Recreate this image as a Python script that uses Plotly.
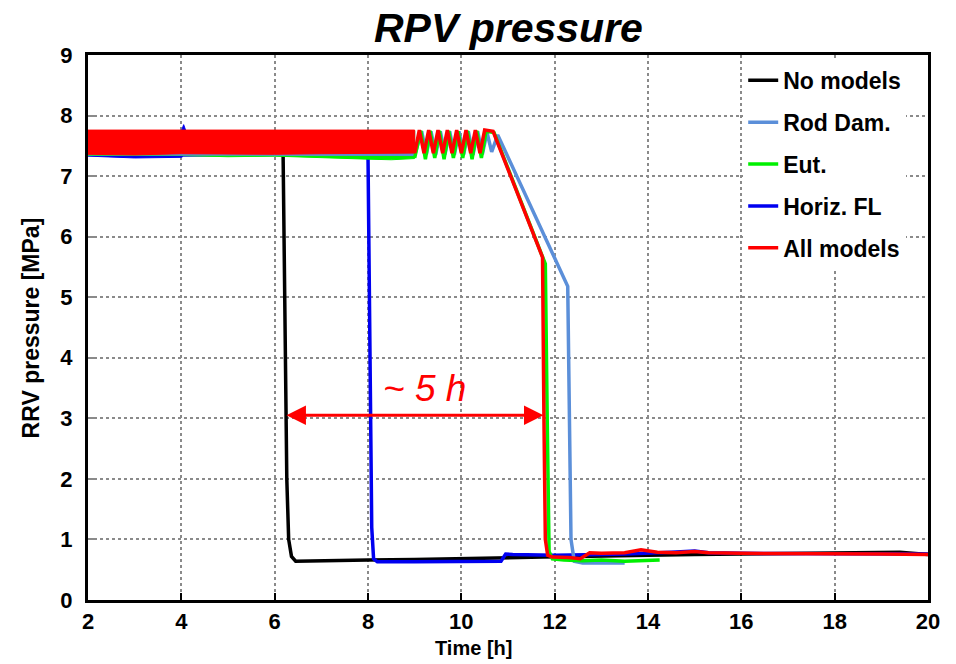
import plotly.graph_objects as go

# ---------------- data ----------------
# dense oscillation envelopes (time [h], high / low pressure [MPa])
band_t_black = [2.0, 3.0, 4.0, 5.0, 6.0, 6.18]
band_hi_black = [7.74, 7.75, 7.74, 7.75, 7.74, 7.74]
band_lo_black = [7.36, 7.35, 7.36, 7.36, 7.37, 7.38]

band_t_blue = [2.0, 3.0, 4.0, 4.05, 4.1, 5.0, 6.0, 7.0, 7.6, 8.0]
band_hi_blue = [7.72, 7.73, 7.74, 7.85, 7.74, 7.73, 7.74, 7.74, 7.74, 7.74]
band_lo_blue = [7.33, 7.30, 7.31, 7.33, 7.34, 7.33, 7.34, 7.34, 7.32, 7.35]

band_t_green = [2.0, 4.0, 5.0, 6.0, 7.0, 8.0, 8.5, 9.0]
band_hi_green = [7.74, 7.74, 7.75, 7.74, 7.75, 7.75, 7.75, 7.75]
band_lo_green = [7.34, 7.34, 7.32, 7.33, 7.31, 7.28, 7.27, 7.29]

band_t_rod = [2.0, 5.0, 8.0, 9.0]
band_hi_rod = [7.74, 7.75, 7.74, 7.74]
band_lo_rod = [7.35, 7.35, 7.34, 7.34]

band_t_red = [2.0, 3.0, 4.0, 5.0, 6.0, 7.0, 8.0, 9.0]
band_hi_red = [7.76, 7.76, 7.75, 7.76, 7.76, 7.76, 7.75, 7.76]
band_lo_red = [7.36, 7.35, 7.37, 7.37, 7.36, 7.37, 7.38, 7.38]

# line traces after the dense part
t_black = [6.18, 6.22, 6.26, 6.30, 6.36, 6.45, 7.0, 8.0, 9.0, 10.0, 11.0, 11.75, 12.5,
           13.0, 14.0, 15.0, 16.0, 17.0, 18.0, 19.0, 19.4, 20.0]
p_black = [7.40, 5.0, 2.0, 1.0, 0.72, 0.64, 0.65, 0.66, 0.67, 0.68, 0.70, 0.71, 0.72,
           0.73, 0.74, 0.75, 0.76, 0.77, 0.78, 0.79, 0.79, 0.75]

t_blue = [8.0, 8.04, 8.08, 8.12, 8.2, 9.0, 10.0, 10.85, 10.95, 11.1, 12.0, 12.5, 13.0,
          13.5, 14.0, 14.5, 15.0, 15.3, 16.0, 18.0, 20.0]
p_blue = [7.35, 4.0, 1.2, 0.68, 0.63, 0.63, 0.63, 0.64, 0.76, 0.75, 0.74, 0.74, 0.75,
          0.76, 0.77, 0.79, 0.81, 0.78, 0.77, 0.77, 0.76]

t_green = [9.0, 9.13, 9.23, 9.33, 9.43, 9.53, 9.63, 9.73, 9.83, 9.93, 10.03, 10.13,
           10.23, 10.33, 10.43, 10.53, 10.70, 11.80, 11.84, 11.88, 11.95, 12.2, 12.6,
           13.0, 13.5, 14.0, 14.25]
p_green = [7.30, 7.75, 7.28, 7.75, 7.30, 7.75, 7.28, 7.75, 7.30, 7.74, 7.30, 7.75,
           7.28, 7.75, 7.30, 7.74, 7.72, 5.55, 3.0, 0.80, 0.68, 0.66, 0.65,
           0.66, 0.64, 0.66, 0.66]

t_rod = [9.0, 9.15, 9.25, 9.35, 9.45, 9.55, 9.65, 9.75, 9.85, 9.95, 10.05, 10.15,
         10.25, 10.35, 10.45, 10.55, 10.65, 10.78, 12.28, 12.31, 12.35, 12.42, 12.6,
         13.0, 13.5]
p_rod = [7.35, 7.74, 7.36, 7.74, 7.35, 7.74, 7.36, 7.74, 7.35, 7.74, 7.36, 7.74,
         7.35, 7.74, 7.36, 7.72, 7.40, 7.68, 5.18, 3.0, 1.0, 0.64, 0.61,
         0.61, 0.61]

t_red = [9.0, 9.1, 9.2, 9.3, 9.4, 9.5, 9.6, 9.7, 9.8, 9.9, 10.0, 10.1, 10.2, 10.3,
         10.4, 10.5, 10.68, 11.74, 11.77, 11.80, 11.85, 11.95, 12.3, 12.55, 12.75,
         13.0, 13.5, 13.85, 14.2, 14.6, 15.0, 15.3, 16.0, 17.0, 18.0, 19.0, 20.0]
p_red = [7.38, 7.76, 7.38, 7.76, 7.38, 7.76, 7.38, 7.76, 7.38, 7.76, 7.38, 7.76,
         7.38, 7.76, 7.38, 7.76, 7.74, 5.66, 3.0, 1.0, 0.74, 0.71, 0.70, 0.68, 0.78,
         0.77, 0.78, 0.83, 0.79, 0.78, 0.80, 0.78, 0.77, 0.77, 0.77, 0.76, 0.75]

# annotation values
arrow_start_t, arrow_end_t, arrow_p = 6.22, 11.76, 3.05
label_t, label_p = 9.22, 3.5
xtitle_t = 10.27

x_ticks = [2, 4, 6, 8, 10, 12, 14, 16, 18, 20]
y_ticks = [0, 1, 2, 3, 4, 5, 6, 7, 8, 9]

names = ["No models", "Rod Dam.", "Eut.", "Horiz. FL", "All models"]
colors = {"No models": "#000000", "Rod Dam.": "#5B8FD9", "Eut.": "#00F000",
          "Horiz. FL": "#0000F0", "All models": "#FF0000"}

# ---------------- figure ----------------
fig = go.Figure()

def add_band(t, hi, lo, color):
    fig.add_trace(go.Scatter(x=t + t[::-1], y=hi + lo[::-1], fill="toself",
                             fillcolor=color, line=dict(width=1, color=color),
                             mode="lines", showlegend=False, hoverinfo="skip"))

def add_line(t, p, name, rank):
    fig.add_trace(go.Scatter(x=t, y=p, mode="lines", name=name,
                             line=dict(color=colors[name], width=3.5),
                             legendgroup=name, legendrank=rank))

# draw order: black, blue, green, rod, red on top
add_band(band_t_black, band_hi_black, band_lo_black, colors["No models"])
add_line(t_black, p_black, "No models", 1)
add_band(band_t_blue, band_hi_blue, band_lo_blue, colors["Horiz. FL"])
add_line(t_blue, p_blue, "Horiz. FL", 4)
add_band(band_t_green, band_hi_green, band_lo_green, colors["Eut."])
add_band(band_t_rod, band_hi_rod, band_lo_rod, colors["Rod Dam."])
add_line(t_rod, p_rod, "Rod Dam.", 2)
add_line(t_green, p_green, "Eut.", 3)
add_band(band_t_red, band_hi_red, band_lo_red, colors["All models"])
add_line(t_red, p_red, "All models", 5)

font_family = "Liberation Sans, Arial, sans-serif"

fig.add_annotation(x=arrow_end_t, y=arrow_p, ax=arrow_start_t, ay=arrow_p,
                   xref="x", yref="y", axref="x", ayref="y", text="",
                   showarrow=True, arrowhead=2, startarrowhead=2, arrowside="end+start",
                   arrowsize=1.3, startarrowsize=1.3, arrowwidth=3, arrowcolor="#FF0000")
fig.add_annotation(x=label_t, y=label_p, xref="x", yref="y", text="<i>~ 5 h</i>",
                   showarrow=False, font=dict(family=font_family, size=37, color="#FF0000"))
# axis titles
fig.add_annotation(x=xtitle_t, y=0, xref="x", yref="paper", yshift=-48,
                   xanchor="center", yanchor="middle", showarrow=False,
                   text="<b>Time [h]</b>",
                   font=dict(family=font_family, size=20, color="black"))
fig.add_annotation(x=-0.068, y=0.5, xref="paper", yref="paper", textangle=-90,
                   xanchor="center", yanchor="middle", showarrow=False,
                   text="<b>RRV pressure [MPa]</b>",
                   font=dict(family=font_family, size=23, color="black"))
# chart title
fig.add_annotation(x=0.501, y=1, xref="paper", yref="paper", yshift=27,
                   xanchor="center", yanchor="middle", showarrow=False,
                   text="<b><i>RPV pressure</i></b>",
                   font=dict(family=font_family, size=41, color="black"))

fig.update_layout(
    width=956, height=664,
    margin=dict(l=88, r=28, t=55, b=64),
    paper_bgcolor="white", plot_bgcolor="white",
    font=dict(family=font_family, color="black"),
    legend=dict(x=0.78, y=0.993, xanchor="left", yanchor="top",
                bgcolor="white", borderwidth=0, traceorder="grouped",
                tracegroupgap=9, itemwidth=30,
                font=dict(size=23, family=font_family, color="black", weight="bold")),
    showlegend=True,
)

fig.update_xaxes(range=[2, 20], tickvals=x_ticks, ticktext=[str(v) for v in x_ticks],
                 showgrid=True, gridcolor="#8a8a8a", griddash="dot", gridwidth=1.5,
                 showline=True, linecolor="black", linewidth=3, mirror=True,
                 ticks="inside", ticklen=7, tickcolor="black", tickwidth=1.5,
                 tickfont=dict(size=22, family=font_family, weight="bold"),
                 automargin=False, zeroline=False)
fig.update_yaxes(range=[0, 9], tickvals=y_ticks, ticktext=[str(v) for v in y_ticks],
                 showgrid=True, gridcolor="#8a8a8a", griddash="dot", gridwidth=1.5,
                 showline=True, linecolor="black", linewidth=3, mirror=True,
                 ticks="inside", ticklen=6, tickcolor="#8a8a8a", tickwidth=1.5,
                 ticklabelstandoff=8,
                 tickfont=dict(size=22, family=font_family, weight="bold"),
                 automargin=False, zeroline=False)

fig.write_html("out.html",
               config={"displayModeBar": False},
               post_script="document.body.style.margin='0';"
                           "document.body.style.overflow='hidden';")
